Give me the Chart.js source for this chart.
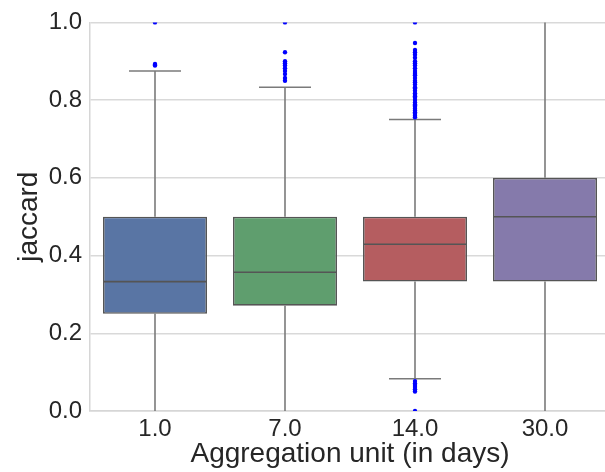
<!DOCTYPE html>
<html>
<head>
<meta charset="utf-8">
<script src="https://cdn.jsdelivr.net/npm/chart.js@4"></script>
<style>
    html, body { margin: 0; padding: 0; background: #fff; overflow: hidden; }
    #wrap { position: absolute; left: 0; top: 0; width: 615px; height: 472px; }
</style>
</head>
<body>
<div id="wrap"><canvas id="chart" width="615" height="472"></canvas></div>
<script>
const labels = ['1.0', '7.0', '14.0', '30.0'];
const q1 = [0.25, 0.271, 0.333, 0.333];
const medians = [0.333, 0.357, 0.429, 0.5];
const q3 = [0.5, 0.5, 0.5, 0.6];
const whiskerLow = [0, 0, 0.083, 0];
const whiskerHigh = [0.875, 0.833, 0.75, 1.0];
const outliers = [
    [0.889, 0.891, 0.893, 1.0],
    [0.85, 0.857, 0.867, 0.875, 0.882, 0.889, 0.895, 0.9, 0.923, 1.0],
    [0.0, 0.05, 0.056, 0.062, 0.067, 0.071, 0.077,
     0.756, 0.76, 0.765, 0.769, 0.773, 0.778, 0.783, 0.786, 0.789, 0.794, 0.8, 0.806,
     0.81, 0.813, 0.818, 0.824, 0.83, 0.833, 0.84, 0.846, 0.85, 0.857, 0.864, 0.867,
     0.87, 0.875, 0.882, 0.889, 0.895, 0.9, 0.909, 0.917, 0.923, 0.929, 0.947, 1.0],
    []
];
const boxColors = ['#5975a4', '#5f9e6e', '#b55d60', '#857aab'];

const edgeColor = '#555555';
const whiskerColor = '#7a7a7a';
const fontFamily = '"Liberation Sans", Arial, sans-serif';
const BOX_DATASET = 1;

// whiskers + caps behind the boxes, medians on top
const boxplotLines = {
    id: 'boxplotLines',
    beforeDatasetsDraw: chart => {
        const {ctx} = chart;
        const y = chart.scales.y;
        const meta = chart.getDatasetMeta(BOX_DATASET);
        ctx.save();
        ctx.strokeStyle = whiskerColor;
        ctx.lineWidth = 1.6;
        meta.data.forEach((bar, i) => {
            const cx = bar.x;
            const capHalf = bar.width / 4;
            const segs = [[q3[i], whiskerHigh[i]], [q1[i], whiskerLow[i]]];
            segs.forEach(([from, to]) => {
                ctx.beginPath();
                ctx.moveTo(cx, y.getPixelForValue(from));
                ctx.lineTo(cx, y.getPixelForValue(to));
                ctx.stroke();
                // caps sitting on the axis limits get hidden by the frame
                if (to <= y.min || to >= y.max) return;
                ctx.beginPath();
                ctx.moveTo(cx - capHalf, y.getPixelForValue(to));
                ctx.lineTo(cx + capHalf, y.getPixelForValue(to));
                ctx.stroke();
            });
        });
        ctx.restore();
    },
    afterDatasetsDraw: chart => {
        const {ctx} = chart;
        const y = chart.scales.y;
        const meta = chart.getDatasetMeta(BOX_DATASET);
        ctx.save();
        ctx.strokeStyle = edgeColor;
        ctx.lineWidth = 1.6;
        meta.data.forEach((bar, i) => {
            const py = y.getPixelForValue(medians[i]);
            ctx.beginPath();
            ctx.moveTo(bar.x - bar.width / 2, py);
            ctx.lineTo(bar.x + bar.width / 2, py);
            ctx.stroke();
        });
        ctx.restore();
    }
};

const outlierPoints = [];
outliers.forEach((list, i) => {
    list.forEach(v => outlierPoints.push({x: labels[i], y: v}));
});

new Chart(document.getElementById('chart'), {
    type: 'bar',
    data: {
        labels: labels,
        datasets: [{
            type: 'scatter',
            data: outlierPoints,
            pointRadius: 2.2,
            pointBackgroundColor: '#0000ff',
            pointBorderWidth: 0,
            order: 0
        }, {
            data: labels.map((l, i) => [q1[i], q3[i]]),
            backgroundColor: boxColors,
            borderColor: edgeColor,
            borderWidth: 1.6,
            borderSkipped: false,
            categoryPercentage: 0.8,
            barPercentage: 1.0,
            order: 1
        }]
    },
    options: {
        responsive: false,
        animation: false,
        layout: {padding: {top: 21, right: 5, left: 0, bottom: 0}},
        plugins: {
            legend: {display: false},
            tooltip: {enabled: false}
        },
        scales: {
            x: {
                type: 'category',
                offset: true,
                grid: {display: false, drawTicks: false},
                border: {color: '#d6d6d6', width: 1.5},
                ticks: {color: '#262626', font: {family: fontFamily, size: 24}, padding: 4},
                title: {
                    display: true,
                    text: 'Aggregation unit (in days)',
                    color: '#262626',
                    font: {family: fontFamily, size: 28},
                    padding: {top: 0, bottom: 1}
                },
                afterFit: scale => { scale.height = 61; }
            },
            y: {
                min: 0,
                max: 1,
                grid: {color: '#d9d9d9', lineWidth: 1.5, drawTicks: false},
                border: {color: '#d6d6d6', width: 1.5},
                ticks: {
                    stepSize: 0.2,
                    color: '#262626',
                    font: {family: fontFamily, size: 24},
                    padding: 8,
                    callback: value => value.toFixed(1)
                },
                title: {
                    display: true,
                    text: 'jaccard',
                    color: '#262626',
                    font: {family: fontFamily, size: 28},
                    padding: {top: 12, bottom: 0}
                },
                afterFit: scale => { scale.width = 90; }
            }
        }
    },
    plugins: [boxplotLines]
});
</script>
</body>
</html>
